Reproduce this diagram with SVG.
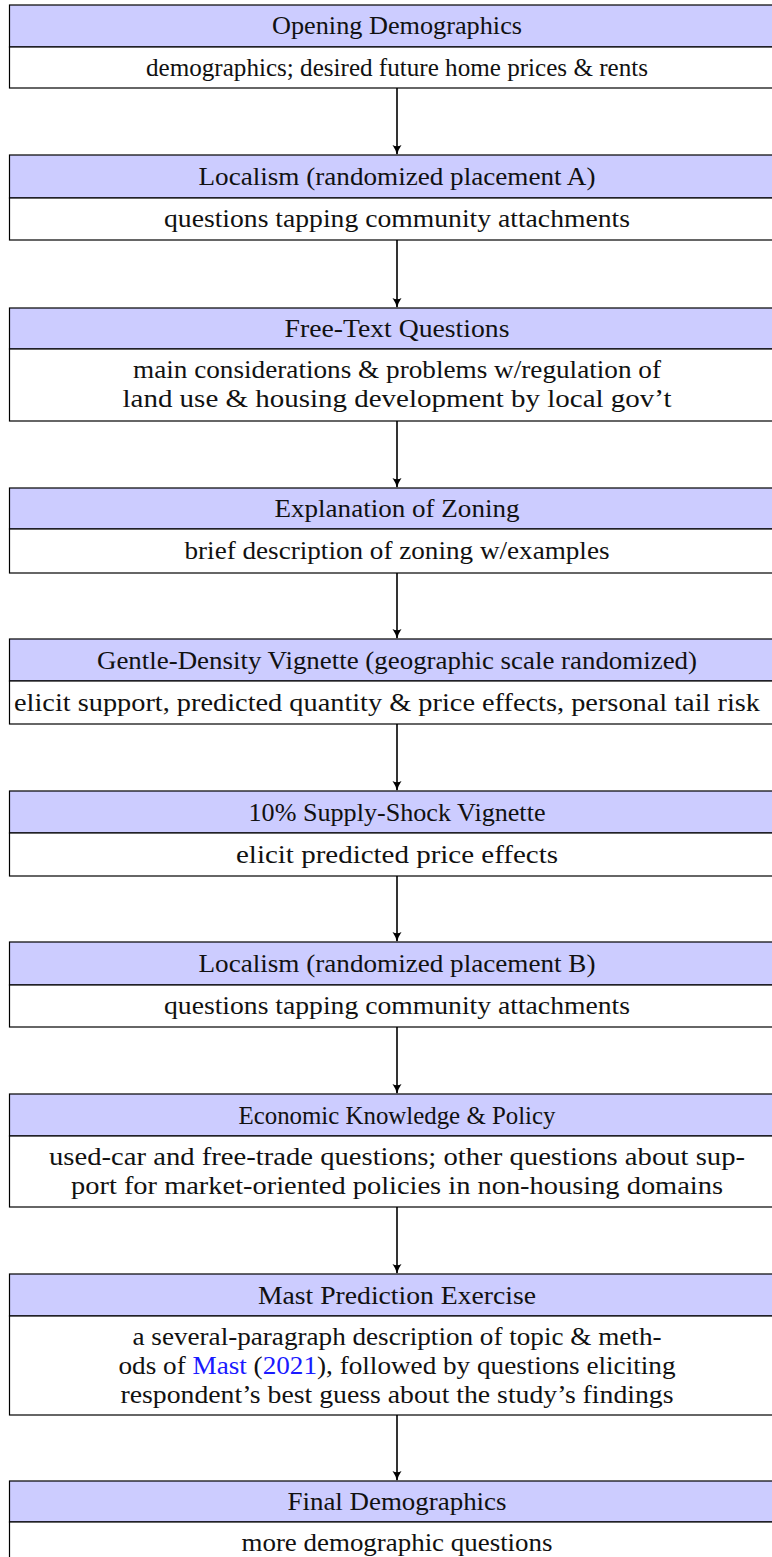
<svg xmlns="http://www.w3.org/2000/svg" width="772" height="1557" viewBox="0 0 772 1557">
<style>
.hd{fill:#ccccff;stroke:#000;stroke-width:1.2}
.bd{fill:#ffffff;stroke:#000;stroke-width:1.2}
.t{font-family:'Liberation Serif','Times New Roman','DejaVu Serif',serif;font-size:25px;fill:#111;text-anchor:middle}
.lk{fill:#1a1aff}
.cn{stroke:#000;stroke-width:1.6;fill:none}
</style>
<defs>
<marker id="ah" viewBox="0 0 10 10" refX="9" refY="5" markerWidth="10" markerHeight="10" markerUnits="userSpaceOnUse" orient="auto">
<path d="M0,0.5 Q5,4 10,5 Q5,6 0,9.5 Q2.5,5 0,0.5 Z" fill="#000"/>
</marker>
</defs>
<rect width="772" height="1557" fill="#fff"/>
<g id="connectors">
<line class="cn" x1="397" y1="88" x2="397" y2="154" marker-end="url(#ah)"/>
<line class="cn" x1="397" y1="240" x2="397" y2="307" marker-end="url(#ah)"/>
<line class="cn" x1="397" y1="421" x2="397" y2="487" marker-end="url(#ah)"/>
<line class="cn" x1="397" y1="573" x2="397" y2="638" marker-end="url(#ah)"/>
<line class="cn" x1="397" y1="724" x2="397" y2="790" marker-end="url(#ah)"/>
<line class="cn" x1="397" y1="876" x2="397" y2="941" marker-end="url(#ah)"/>
<line class="cn" x1="397" y1="1027" x2="397" y2="1093" marker-end="url(#ah)"/>
<line class="cn" x1="397" y1="1207" x2="397" y2="1273" marker-end="url(#ah)"/>
<line class="cn" x1="397" y1="1415" x2="397" y2="1480" marker-end="url(#ah)"/>
</g>
<g font-family="Liberation Serif, Times New Roman, DejaVu Serif, serif">
<g id="opening">
<rect class="hd" x="9.5" y="5" width="775" height="42"/>
<rect class="bd" x="9.5" y="47" width="775" height="41"/>
<text class="t" x="397" y="34" textLength="250" lengthAdjust="spacingAndGlyphs">Opening Demographics</text>
<text class="t" x="397" y="76" textLength="502" lengthAdjust="spacingAndGlyphs">demographics; desired future home prices &amp; rents</text>
</g>
<g id="localismA">
<rect class="hd" x="9.5" y="155" width="775" height="43"/>
<rect class="bd" x="9.5" y="198" width="775" height="42"/>
<text class="t" x="397" y="185" textLength="397" lengthAdjust="spacingAndGlyphs">Localism (randomized placement A)</text>
<text class="t" x="397" y="227" textLength="466" lengthAdjust="spacingAndGlyphs">questions tapping community attachments</text>
</g>
<g id="freetext">
<rect class="hd" x="9.5" y="308" width="775" height="41"/>
<rect class="bd" x="9.5" y="349" width="775" height="72"/>
<text class="t" x="397" y="337" textLength="225" lengthAdjust="spacingAndGlyphs">Free-Text Questions</text>
<text class="t" x="397" y="378" textLength="528" lengthAdjust="spacingAndGlyphs">main considerations &amp; problems w/regulation of</text>
<text class="t" x="397" y="407" textLength="549" lengthAdjust="spacingAndGlyphs">land use &amp; housing development by local gov’t</text>
</g>
<g id="zoning">
<rect class="hd" x="9.5" y="488" width="775" height="41"/>
<rect class="bd" x="9.5" y="529" width="775" height="44"/>
<text class="t" x="397" y="517" textLength="245" lengthAdjust="spacingAndGlyphs">Explanation of Zoning</text>
<text class="t" x="397" y="559" textLength="425" lengthAdjust="spacingAndGlyphs">brief description of zoning w/examples</text>
</g>
<g id="gentle">
<rect class="hd" x="9.5" y="639" width="775" height="42"/>
<rect class="bd" x="9.5" y="681" width="775" height="43"/>
<text class="t" x="397" y="669" textLength="600" lengthAdjust="spacingAndGlyphs">Gentle-Density Vignette (geographic scale randomized)</text>
<text class="t" x="387" y="711" textLength="746" lengthAdjust="spacingAndGlyphs">elicit support, predicted quantity &amp; price effects, personal tail risk</text>
</g>
<g id="supplyshock">
<rect class="hd" x="9.5" y="791" width="775" height="42"/>
<rect class="bd" x="9.5" y="833" width="775" height="43"/>
<text class="t" x="397" y="821" textLength="297" lengthAdjust="spacingAndGlyphs">10% Supply-Shock Vignette</text>
<text class="t" x="397" y="863" textLength="322" lengthAdjust="spacingAndGlyphs">elicit predicted price effects</text>
</g>
<g id="localismB">
<rect class="hd" x="9.5" y="942" width="775" height="43"/>
<rect class="bd" x="9.5" y="985" width="775" height="42"/>
<text class="t" x="397" y="972" textLength="397" lengthAdjust="spacingAndGlyphs">Localism (randomized placement B)</text>
<text class="t" x="397" y="1014" textLength="466" lengthAdjust="spacingAndGlyphs">questions tapping community attachments</text>
</g>
<g id="economic">
<rect class="hd" x="9.5" y="1094" width="775" height="42"/>
<rect class="bd" x="9.5" y="1136" width="775" height="71"/>
<text class="t" x="397" y="1124" textLength="317" lengthAdjust="spacingAndGlyphs">Economic Knowledge &amp; Policy</text>
<text class="t" x="397" y="1165" textLength="696" lengthAdjust="spacingAndGlyphs">used-car and free-trade questions; other questions about sup-</text>
<text class="t" x="397" y="1194" textLength="652" lengthAdjust="spacingAndGlyphs">port for market-oriented policies in non-housing domains</text>
</g>
<g id="mast">
<rect class="hd" x="9.5" y="1274" width="775" height="42"/>
<rect class="bd" x="9.5" y="1316" width="775" height="99"/>
<text class="t" x="397" y="1304" textLength="278" lengthAdjust="spacingAndGlyphs">Mast Prediction Exercise</text>
<text class="t" x="397" y="1345" textLength="529" lengthAdjust="spacingAndGlyphs">a several-paragraph description of topic &amp; meth-</text>
<text class="t" x="397" y="1374" textLength="557" lengthAdjust="spacingAndGlyphs">ods of <tspan class="lk">Mast</tspan> (<tspan class="lk">2021</tspan>), followed by questions eliciting</text>
<text class="t" x="397" y="1403" textLength="553" lengthAdjust="spacingAndGlyphs">respondent’s best guess about the study’s findings</text>
</g>
<g id="final">
<rect class="hd" x="9.5" y="1481" width="775" height="41"/>
<rect class="bd" x="9.5" y="1522" width="775" height="42"/>
<text class="t" x="397" y="1510" textLength="219" lengthAdjust="spacingAndGlyphs">Final Demographics</text>
<text class="t" x="397" y="1551" textLength="311" lengthAdjust="spacingAndGlyphs">more demographic questions</text>
</g>
</g>
</svg>
